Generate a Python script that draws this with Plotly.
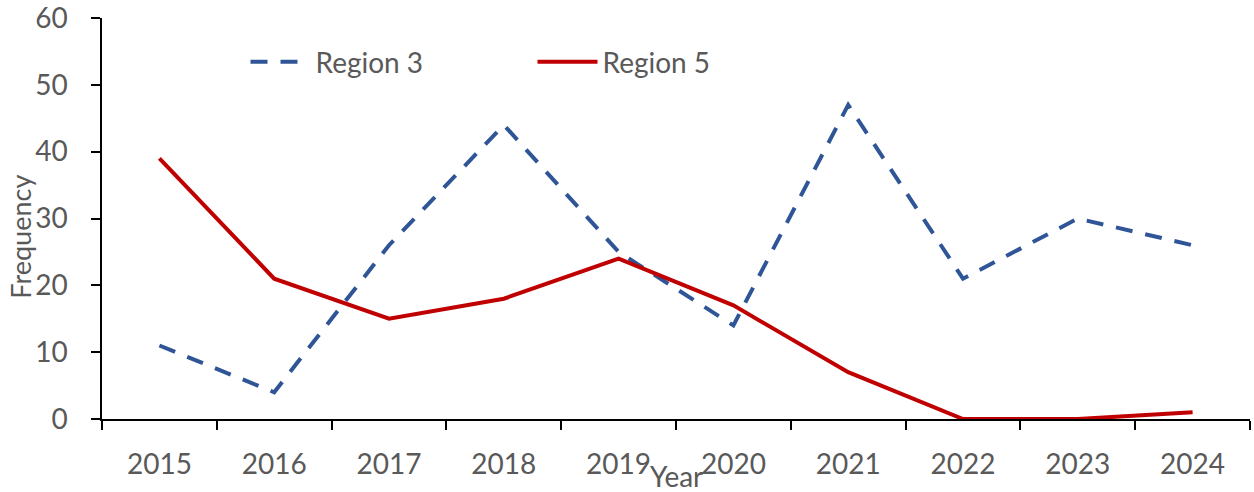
import plotly.graph_objects as go

years = ["2015", "2016", "2017", "2018", "2019", "2020", "2021", "2022", "2023", "2024"]
region3 = [11, 4, 26, 44, 25, 14, 47, 21, 30, 26]
region5 = [39, 21, 15, 18, 24, 17, 7, 0, 0, 1]
y_ticks = [0, 10, 20, 30, 40, 50, 60]

FONT = "Lato, Carlito, Calibri, sans-serif"
GREY = "#595959"

fig = go.Figure()
fig.add_trace(go.Scatter(
    x=years, y=region3, name="Region 3", mode="lines",
    line=dict(color="#2F5597", width=4, dash="17px,13px"),
))
fig.add_trace(go.Scatter(
    x=years, y=region5, name="Region 5", mode="lines",
    line=dict(color="#C00000", width=4),
))

fig.update_layout(
    width=1254, height=492,
    margin=dict(l=102, r=4, t=18, b=73),
    paper_bgcolor="white", plot_bgcolor="white",
    font=dict(family=FONT, size=27, color=GREY),
    showlegend=True,
    legend=dict(
        orientation="h", x=0.125, y=0.89, xanchor="left", yanchor="middle",
        font=dict(size=28, color=GREY), bgcolor="rgba(0,0,0,0)",
        entrywidth=212, entrywidthmode="pixels", itemwidth=60,
    ),
    xaxis=dict(
        type="category", range=[-0.5, 9.5], tickson="boundaries",
        showline=True, linecolor="black", linewidth=1.5,
        ticks="outside", ticklen=9, tickcolor="black", tickwidth=1.5,
        showgrid=False, zeroline=False, ticklabelstandoff=20,
        ticklabeloverflow="allow",
        tickfont=dict(size=28, color=GREY), automargin=False,
    ),
    yaxis=dict(
        range=[0, 60], tickvals=y_ticks,
        showline=True, linecolor="black", linewidth=1.5,
        ticks="outside", ticklen=9, tickcolor="black", tickwidth=1.5,
        showgrid=False, zeroline=False, ticklabelstandoff=18,
        ticklabeloverflow="allow",
        tickfont=dict(size=28, color=GREY), automargin=False,
    ),
    annotations=[
        dict(text="Year", xref="paper", yref="paper", x=0.5, y=-0.142,
             xanchor="center", yanchor="middle", showarrow=False,
             font=dict(size=28, color=GREY)),
        dict(text="Frequency", xref="paper", yref="paper", x=-0.071, y=0.456,
             xanchor="center", yanchor="middle", textangle=-90, showarrow=False,
             font=dict(size=27, color=GREY)),
    ],
)

fig.write_html("out.html")
